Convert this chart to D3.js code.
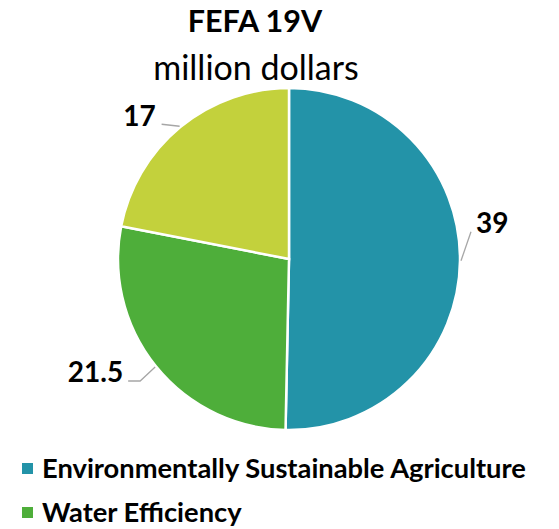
<!DOCTYPE html>
<html>
<head>
<meta charset="utf-8">
<script src="https://cdn.jsdelivr.net/npm/d3@7"></script>
<style>
  body { margin: 0; background: #fff; }
  text { font-family: Lato, "Open Sans", sans-serif; }
</style>
</head>
<body>
<svg id="chart" width="559" height="529"></svg>
<script>
// chart data
const categories = ["Environmentally Sustainable Agriculture", "Water Efficiency", "Other"];
const values = [39, 21.5, 17];
const labels = ["39", "21.5", "17"];
const colors = ["#2393A8", "#4EAE3A", "#C3D13C"];

function init() {
    const svg = d3.select("#chart");
    const cx = 289, cy = 259, r = 171;

    // titles
    svg.append("text")
        .attr("x", 255).attr("y", 32)
        .attr("text-anchor", "middle")
        .attr("font-size", "30.5px").attr("font-weight", "bold")
        .text("FEFA 19V");
    svg.append("text")
        .attr("x", 256).attr("y", 80)
        .attr("text-anchor", "middle")
        .attr("font-size", "34px")
        .text("million dollars");

    const pie = d3.pie().sort(null).value(d => d);
    const arcs = pie(values);
    const arc = d3.arc().innerRadius(0).outerRadius(r);

    const g = svg.append("g").attr("transform", "translate(" + cx + "," + cy + ")");
    g.selectAll("path")
        .data(arcs)
        .join("path")
        .attr("d", arc)
        .attr("fill", (d, i) => colors[i])
        .attr("stroke", "#fff")
        .attr("stroke-width", 2.5);

    // leader lines: from rim at slice middle, out to the label
    const labelPos = [
        { dx: 10, dy: -29, tx: 5, ty: 1, anchor: "start", elbow: 0 },
        { dx: -15, dy: 14, tx: -5, ty: 1, anchor: "end", elbow: -12 },
        { dx: -18, dy: -2, tx: -6, ty: 2, anchor: "end", elbow: 0 }
    ];

    arcs.forEach((a, i) => {
        const p = labelPos[i];
        const ang = (a.startAngle + a.endAngle) / 2;
        const sx = Math.sin(ang) * (r + 1), sy = -Math.cos(ang) * (r + 1);
        const ex = sx + p.dx, ey = sy + p.dy;
        const pts = [[sx, sy], [ex, ey]];
        if (p.elbow) pts.push([ex + p.elbow, ey]);
        g.append("path")
            .attr("d", d3.line()(pts))
            .attr("fill", "none")
            .attr("stroke", "#a6a6a6")
            .attr("stroke-width", 1.3);
        const last = pts[pts.length - 1];
        g.append("text")
            .attr("x", last[0] + p.tx)
            .attr("y", last[1] + p.ty)
            .attr("text-anchor", p.anchor)
            .attr("font-size", "28px").attr("font-weight", "bold")
            .text(labels[i]);
    });

    // legend (third entry falls below the visible area)
    const legend = svg.append("g");
    categories.slice(0, 2).forEach((c, i) => {
        const y = 478 + i * 44;
        legend.append("rect")
            .attr("x", 22).attr("y", y - 15)
            .attr("width", 11).attr("height", 11)
            .attr("fill", colors[i]);
        legend.append("text")
            .attr("x", 42).attr("y", y)
            .attr("font-size", "27.3px").attr("font-weight", "bold")
            .text(c);
    });
}

window.onload = init;
</script>
</body>
</html>
